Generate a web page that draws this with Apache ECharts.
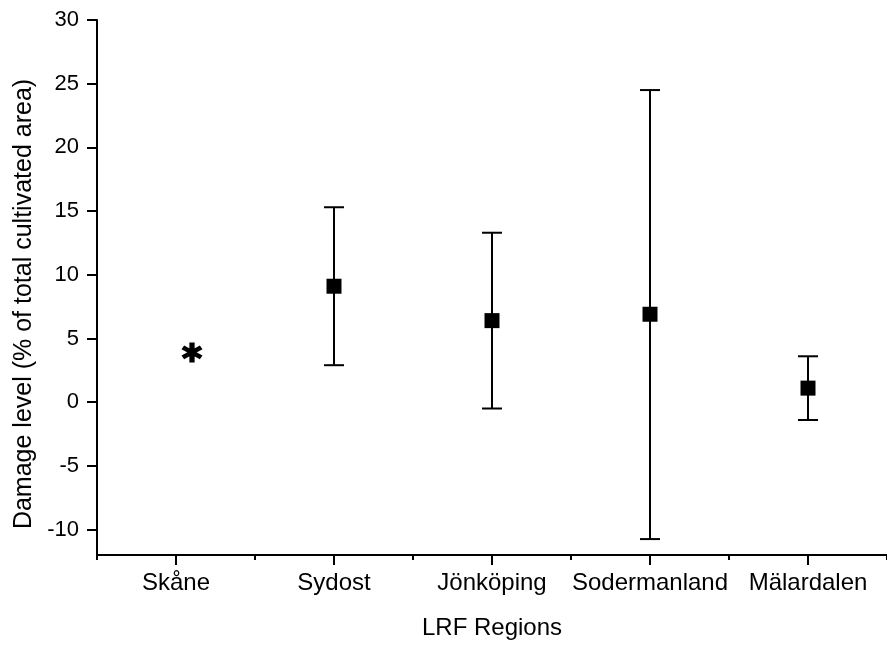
<!DOCTYPE html>
<html>
<head>
<meta charset="utf-8">
<script src="https://cdn.jsdelivr.net/npm/echarts@6/dist/echarts.min.js"></script>
<style>html,body{margin:0;padding:0;background:#fff;}#c{width:887px;height:645px;}</style>
</head>
<body>
<div id="c"></div>
<script>
var categories = ['Skåne', 'Sydost', 'Jönköping', 'Sodermanland', 'Mälardalen'];
var means = [null, 9.1, 6.4, 6.9, 1.1];
var upper = [null, 15.3, 13.3, 24.5, 3.6];
var lower = [null, 2.9, -0.5, -10.75, -1.4];
var skaneValue = [3.9, null, null, null, null];
var yTicks = [-10, -5, 0, 5, 10, 15, 20, 25, 30];

var FONT = '"Liberation Sans", Arial, sans-serif';
var chart = echarts.init(document.getElementById('c'));

var errData = [];
for (var i = 0; i < categories.length; i++) {
  if (means[i] !== null) errData.push([i, lower[i], upper[i]]);
}
var meanData = [];
for (var j = 0; j < categories.length; j++) {
  if (means[j] !== null) meanData.push([j, means[j]]);
}

var asteriskPath = 'path://M-2.2,-10L2.2,-10L2.2,10L-2.2,10Z M6.56,-6.9L8.76,-3.09L-6.56,6.9L-8.76,3.09Z M8.76,3.09L6.56,6.9L-8.76,-3.09L-6.56,-6.9Z';

chart.setOption({
  animation: false,
  backgroundColor: '#fff',
  grid: { left: 97, top: 20, bottom: 86, right: -8, containLabel: false },
  xAxis: [{
    type: 'category',
    data: categories,
    boundaryGap: true,
    name: 'LRF Regions',
    nameLocation: 'middle',
    nameGap: 61,
    nameTextStyle: { fontFamily: FONT, fontSize: 24, color: '#000' },
    axisLine: { onZero: false, lineStyle: { color: '#000', width: 2 } },
    axisTick: { show: true, interval: 0, length: 5, lineStyle: { color: '#000', width: 2 } },
    axisLabel: { fontFamily: FONT, fontSize: 24, color: '#000', margin: 16, interval: 0 },
    splitLine: { show: false }
  }, {
    type: 'category',
    data: categories,
    position: 'bottom',
    boundaryGap: true,
    axisLine: { show: false, onZero: false },
    axisTick: { show: true, alignWithLabel: true, interval: 0, length: 10, lineStyle: { color: '#000', width: 2 } },
    axisLabel: { show: false },
    splitLine: { show: false }
  }],
  yAxis: {
    type: 'value',
    min: -12,
    max: 30,
    name: 'Damage level (% of total cultivated area)',
    nameLocation: 'middle',
    nameGap: 60,
    nameRotate: 90,
    nameTextStyle: { fontFamily: FONT, fontSize: 25, color: '#000', padding: [0, 33, 0, 0] },
    axisLine: { show: true, lineStyle: { color: '#000', width: 2 } },
    axisTick: { show: true, length: 10, customValues: yTicks, lineStyle: { color: '#000', width: 2 } },
    axisLabel: { fontFamily: FONT, fontSize: 22, color: '#000', margin: 18, customValues: yTicks },
    splitLine: { show: false }
  },
  series: [{
    type: 'custom',
    xAxisIndex: 0,
    data: errData,
    renderItem: function (params, api) {
      var x = api.value(0);
      var lo = api.coord([x, api.value(1)]);
      var hi = api.coord([x, api.value(2)]);
      var half = 10;
      var style = { stroke: '#000', lineWidth: 2, fill: null };
      return {
        type: 'group',
        children: [
          { type: 'line', shape: { x1: hi[0], y1: hi[1], x2: lo[0], y2: lo[1] }, style: style },
          { type: 'line', shape: { x1: hi[0] - half, y1: hi[1], x2: hi[0] + half, y2: hi[1] }, style: style },
          { type: 'line', shape: { x1: lo[0] - half, y1: lo[1], x2: lo[0] + half, y2: lo[1] }, style: style }
        ]
      };
    },
    z: 2
  }, {
    type: 'scatter',
    xAxisIndex: 0,
    data: meanData,
    symbol: 'rect',
    symbolSize: 15,
    itemStyle: { color: '#000', opacity: 1 },
    z: 3
  }, {
    type: 'scatter',
    xAxisIndex: 0,
    data: skaneValue,
    symbol: asteriskPath,
    symbolSize: [21, 20],
    symbolOffset: [16, 0],
    itemStyle: { color: '#000', opacity: 1 },
    z: 3
  }]
});
</script>
</body>
</html>
